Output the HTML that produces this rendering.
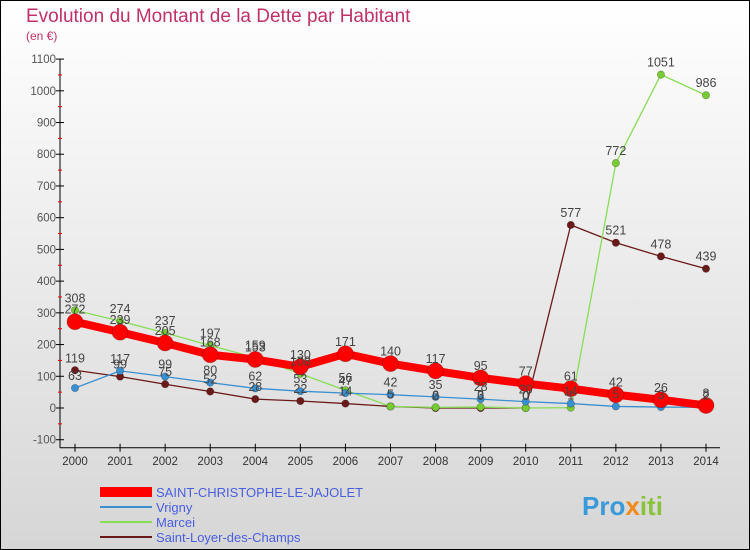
<!DOCTYPE html>
<html><head><meta charset="utf-8"><style>
html,body{margin:0;padding:0}
body{width:750px;height:550px;overflow:hidden;font-family:"Liberation Sans",sans-serif}
#c{position:absolute;left:0;top:0}
</style></head><body>
<svg id="c" width="750" height="550" xmlns="http://www.w3.org/2000/svg">
<defs><linearGradient id="bg" x1="0" y1="0" x2="0" y2="1"><stop offset="0" stop-color="#ffffff"/><stop offset="1" stop-color="#d6d6d6"/></linearGradient></defs>
<rect x="0.5" y="0.5" width="749" height="549" fill="url(#bg)" stroke="#000"/>
<text x="26" y="22" font-size="19" fill="#c0306a">Evolution du Montant de la Dette par Habitant</text>
<text x="26" y="40" font-size="12" fill="#c0306a">(en €)</text>
<g id="axes"></g><g id="series"></g><g id="labels"></g>
<g>
<rect x="100" y="487" width="52" height="10" fill="#ff0000"/>
<text x="156" y="497" font-size="13" fill="#4a5ee0">SAINT-CHRISTOPHE-LE-JAJOLET</text>
<line x1="100" y1="507" x2="152" y2="507" stroke="#3a8fd0" stroke-width="2"/>
<text x="156" y="512" font-size="13" fill="#4a5ee0">Vrigny</text>
<line x1="100" y1="522" x2="152" y2="522" stroke="#88dd55" stroke-width="2"/>
<text x="156" y="527" font-size="13" fill="#4a5ee0">Marcei</text>
<line x1="100" y1="537" x2="152" y2="537" stroke="#6b1a1a" stroke-width="2"/>
<text x="156" y="542" font-size="13" fill="#4a5ee0">Saint-Loyer-des-Champs</text>
</g>
<text x="582" y="515" font-size="26" font-weight="bold" fill="#3a9ad9">Pro<tspan fill="#f08a1a">x</tspan><tspan fill="#8ac33a">iti</tspan></text>
</svg>
<script>
const years=[2000,2001,2002,2003,2004,2005,2006,2007,2008,2009,2010,2011,2012,2013,2014];
const yTicks=[-100,0,100,200,300,400,500,600,700,800,900,1000,1100];
const mainVals=[272,239,205,168,153,130,171,140,117,95,77,61,42,26,8];
const vrignyVals=[63,117,99,80,62,53,47,42,35,28,20,14,5,3,2];
const marceiVals=[308,274,237,197,159,108,56,5,2,3,0,1,772,1051,986];
const loyerVals=[119,99,75,52,28,22,14,5,0,0,0,577,521,478,439];
const NS="http://www.w3.org/2000/svg";
const X=i=>75+i*(706-75)/14;
const Y=v=>408-v*0.3172;
function mk(tag,attrs,parent,text){const e=document.createElementNS(NS,tag);for(const k in attrs)e.setAttribute(k,attrs[k]);if(text!==undefined)e.textContent=text;document.getElementById(parent).appendChild(e);return e;}
let ax=mk('line',{x1:60,y1:Y(1100),x2:60,y2:Y(-100)+8,stroke:'#000'},'axes');


let xa=mk('line',{x1:60,y1:Y(-100)+8,x2:720,y2:Y(-100)+8,stroke:'#000'},'axes');


yTicks.forEach((t,k)=>{
  let l=mk('line',{x1:56,y1:Y(t),x2:64,y2:Y(t),stroke:'#000'},'axes');
  
  
  if(k<yTicks.length-1){
    let m=mk('line',{x1:58,y1:Y(t+50),x2:62,y2:Y(t+50),stroke:'#e00'},'axes');
    
    
  }
  let tx=mk('text',{x:56,y:Y(t)+4,'font-size':11.5,fill:'#555','text-anchor':'end'},'axes',String(t));
  
  
});
years.forEach((yr,i)=>{
  let l=mk('line',{x1:X(i),y1:Y(-100)+4,x2:X(i),y2:Y(-100)+12,stroke:'#000'},'axes');
  
  
  let tx=mk('text',{x:X(i),y:465,'font-size':11.5,fill:'#333','text-anchor':'middle'},'axes',String(yr));
  
  
});
function series(vals,color,w,r,name,mfill){
  const pts=vals.map((v,i)=>X(i)+','+Y(v)).join(' ');
  let pl=mk('polyline',{points:pts,fill:'none',stroke:color,'stroke-width':w,'stroke-linejoin':'round'},'series');
  
  
  vals.forEach((v,i)=>{
    let c=mk('circle',{cx:X(i),cy:Y(v),r:r,fill:mfill,stroke:'rgba(0,0,0,0.25)','stroke-width':0.8},'series');
    
    
    let t=mk('text',{x:X(i),y:Y(v)-8,'font-size':12.5,fill:'#444','text-anchor':'middle'},'labels',String(v));
    
    
  });
}
series(loyerVals,'#6b1a1a',1.3,3.7,'saint-loyer','#6b1a1a');
series(marceiVals,'#88dd55',1.3,3.7,'marcei','#77cc33');
series(vrignyVals,'#3a8fd0',1.3,3.7,'vrigny','#3a8fd0');
series(mainVals,'#ff0000',8,8,'main','#ff0000');
</script>
</body></html>
